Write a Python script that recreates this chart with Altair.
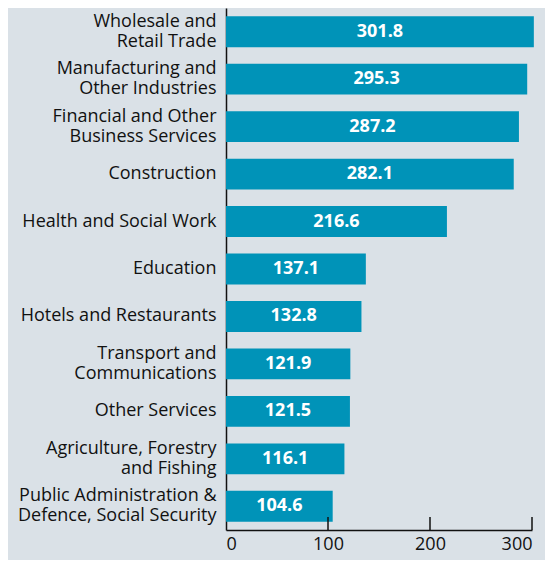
import altair as alt
import pandas as pd

categories = [
    "Wholesale and\nRetail Trade",
    "Manufacturing and\nOther Industries",
    "Financial and Other\nBusiness Services",
    "Construction",
    "Health and Social Work",
    "Education",
    "Hotels and Restaurants",
    "Transport and\nCommunications",
    "Other Services",
    "Agriculture, Forestry\nand Fishing",
    "Public Administration &\nDefence, Social Security",
]
values = [301.8, 295.3, 287.2, 282.1, 216.6, 137.1, 132.8, 121.9, 121.5, 116.1, 104.6]
tick_values = [100, 200, 300]

df = pd.DataFrame({"cat": categories, "val": values})
df["lbl"] = df["val"].map(lambda v: f"{v:.1f}")
ticks_df = pd.DataFrame({"t": tick_values})

BAR = "#0093b8"
BG = "#dae1e7"
FONT = "Open Sans"
H = 522
W = 306
FS = 18
LH = 20

xscale = alt.Scale(domain=[0, 300], nice=False, zero=True)
yscale = alt.Scale(paddingInner=0.35, paddingOuter=0.175)

base = alt.Chart(df)

bars = base.mark_bar(color=BAR).encode(
    x=alt.X("val:Q", scale=xscale,
            axis=alt.Axis(values=[0, 100, 200, 300], title=None, ticks=False, grid=False,
                          domainColor="#111", domainWidth=1.5, labelFontSize=FS,
                          labelColor="#111", labelPadding=5, labelFont=FONT, format="d")),
    y=alt.Y("cat:N", sort=categories, scale=yscale,
            axis=alt.Axis(title=None, ticks=False, domainColor="#111", domainWidth=1.5,
                          labelFontSize=FS, labelColor="#111", labelFont=FONT,
                          labelPadding=10, labelLimit=300,
                          labelExpr="split(datum.value, '\\n')", labelLineHeight=LH,
                          labelOffset={"condition": {"test": "indexof(datum.value, '\\n') >= 0",
                                                     "value": -LH / 2},
                                       "value": 0})),
)

text = base.mark_text(color="white", fontWeight="bold", fontSize=FS, font=FONT).encode(
    x=alt.X("xm:Q", scale=xscale),
    y=alt.Y("cat:N", sort=categories, scale=yscale),
    text="lbl:N",
).transform_calculate(xm="datum.val / 2")

tick_rules = alt.Chart(ticks_df).mark_rule(color="#111", strokeWidth=1.5).encode(
    x=alt.X("t:Q", scale=xscale),
    y=alt.value(H - 13),
    y2=alt.value(H),
)

chart = alt.layer(bars, text, tick_rules).properties(
    width=W, height=H,
    padding={"left": 218, "top": 0, "right": 13, "bottom": 30},
    autosize=alt.AutoSizeParams(type="none"),
    background=BG,
).configure_view(stroke=None)

chart.save("out.html", embed_options={"renderer": "svg", "actions": False})
